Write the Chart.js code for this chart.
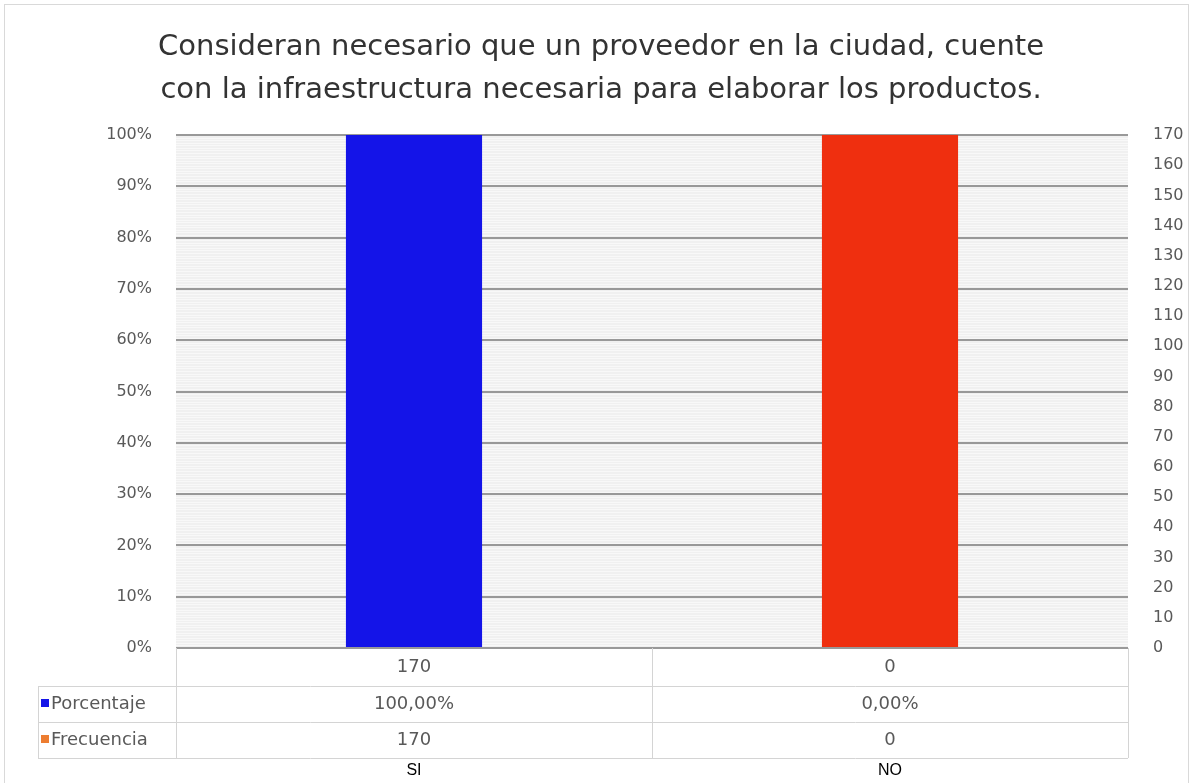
<!DOCTYPE html>
<html>
<head>
<meta charset="utf-8">
<script src="https://cdn.jsdelivr.net/npm/chart.js@4/dist/chart.umd.min.js"></script>
<style>
  body { margin: 0; background: #fff; }
  #caja { width: 1195px; height: 783px; }
</style>
</head>
<body>
<div id="caja"><canvas id="grafico" width="1195" height="783"></canvas></div>
<script>
// datos de la encuesta
const categorias = ['SI', 'NO'];
const frecuencia = [170, 0];
const porcentaje = [100, 0];
// altura de cada columna en el grafico (%)
const columnas = [100, 100];
const coloresColumna = ['#1414e8', '#ef2f0f'];
const titulo = [
    'Consideran necesario que un proveedor en la ciudad, cuente',
    'con la infraestructura necesaria para elaborar los productos.'
];
const ticksFrecuencia = [0, 170, 10]; // min, max, paso

const fuente = 'DejaVu Sans';
const gris = '#595959';

// fondo del area de trazado con rayas finas
const fondo = {
    id: 'fondo',
    beforeDraw(chart) {
        const ctx = chart.ctx;
        const a = chart.chartArea;
        const y = chart.scales.y;
        ctx.save();
        ctx.fillStyle = '#fff';
        ctx.fillRect(0, 0, chart.width, chart.height);
        ctx.fillStyle = '#f0f0f0';
        ctx.fillRect(a.left, a.top, a.right - a.left, a.bottom - a.top);
        ctx.strokeStyle = '#f8f8f8';
        ctx.lineWidth = 1;
        for (let v = 0.5; v < 100; v += 0.5) {
            const py = Math.round(y.getPixelForValue(v)) + 0.5;
            ctx.beginPath();
            ctx.moveTo(a.left, py);
            ctx.lineTo(a.right, py);
            ctx.stroke();
        }
        ctx.restore();
    }
};

// titulo, tabla de datos y marco
const extras = {
    id: 'extras',
    afterDraw(chart) {
        const ctx = chart.ctx;
        const a = chart.chartArea;
        const x = chart.scales.x;
        ctx.save();

        // marco
        ctx.strokeStyle = '#d9d9d9';
        ctx.lineWidth = 1;
        ctx.strokeRect(4.5, 4.5, 1184, 800);

        // titulo
        ctx.fillStyle = '#333333';
        ctx.font = '29px "' + fuente + '"';
        ctx.textAlign = 'center';
        ctx.textBaseline = 'middle';
        ctx.fillText(titulo[0], 601, 47);
        ctx.fillText(titulo[1], 601, 90);

        // lineas de la tabla
        const filas = [a.bottom, 686, 722, 758];
        const izq = 38;
        ctx.strokeStyle = '#d4d4d4';
        ctx.beginPath();
        for (let i = 1; i < filas.length; i++) {
            ctx.moveTo(izq, filas[i] + 0.5);
            ctx.lineTo(a.right, filas[i] + 0.5);
        }
        ctx.moveTo(izq + 0.5, filas[1]);
        ctx.lineTo(izq + 0.5, filas[3]);
        const medio = (x.getPixelForValue(0) + x.getPixelForValue(1)) / 2;
        [a.left, medio, a.right].forEach(function (px) {
            ctx.moveTo(Math.round(px) + 0.5, filas[0]);
            ctx.lineTo(Math.round(px) + 0.5, filas[3]);
        });
        ctx.stroke();

        // valores de la tabla
        ctx.font = '18px "' + fuente + '"';
        ctx.fillStyle = gris;
        categorias.forEach(function (c, i) {
            const cx = x.getPixelForValue(i);
            ctx.fillText(String(frecuencia[i]), cx, 667);
            ctx.fillText(porcentaje[i].toFixed(2).replace('.', ',') + '%', cx, 704);
            ctx.fillText(String(frecuencia[i]), cx, 740);
        });

        // leyenda dentro de la tabla
        ctx.textAlign = 'left';
        ctx.fillStyle = '#1414e8';
        ctx.fillRect(41, 699, 8, 8);
        ctx.fillStyle = '#ed7d31';
        ctx.fillRect(41, 735, 8, 8);
        ctx.fillStyle = gris;
        ctx.fillText('Porcentaje', 51, 704);
        ctx.fillText('Frecuencia', 51, 740);

        // etiquetas de categoria
        ctx.textAlign = 'center';
        ctx.fillStyle = '#000';
        ctx.font = '16px "Liberation Sans"';
        categorias.forEach(function (c, i) {
            ctx.fillText(c, x.getPixelForValue(i), 771);
        });
        ctx.restore();
    }
};

new Chart(document.getElementById('grafico'), {
    type: 'bar',
    data: {
        labels: categorias,
        datasets: [{
            label: 'Porcentaje',
            data: columnas,
            backgroundColor: coloresColumna,
            borderWidth: 0,
            yAxisID: 'y',
            categoryPercentage: 1,
            barPercentage: 0.286
        }]
    },
    options: {
        responsive: false,
        animation: false,
        layout: { padding: { top: 135, bottom: 135, left: 0, right: 0 } },
        plugins: {
            legend: { display: false },
            tooltip: { enabled: false },
            title: { display: false }
        },
        scales: {
            x: { display: false },
            y: {
                position: 'left',
                min: 0,
                max: 100,
                afterFit: function (s) { s.width = 176; },
                border: { display: false },
                grid: { color: '#999999', lineWidth: 2, drawTicks: false },
                ticks: {
                    stepSize: 10,
                    padding: 24,
                    color: gris,
                    font: { family: fuente, size: 16 },
                    callback: function (v) { return v + '%'; }
                }
            },
            y2: {
                position: 'right',
                min: ticksFrecuencia[0],
                max: ticksFrecuencia[1],
                afterFit: function (s) { s.width = 1195 - 1128; },
                border: { display: false },
                grid: { display: false, drawTicks: false },
                ticks: {
                    stepSize: ticksFrecuencia[2],
                    padding: 25,
                    color: gris,
                    font: { family: fuente, size: 16 }
                }
            }
        }
    },
    plugins: [fondo, extras]
});
</script>
</body>
</html>
